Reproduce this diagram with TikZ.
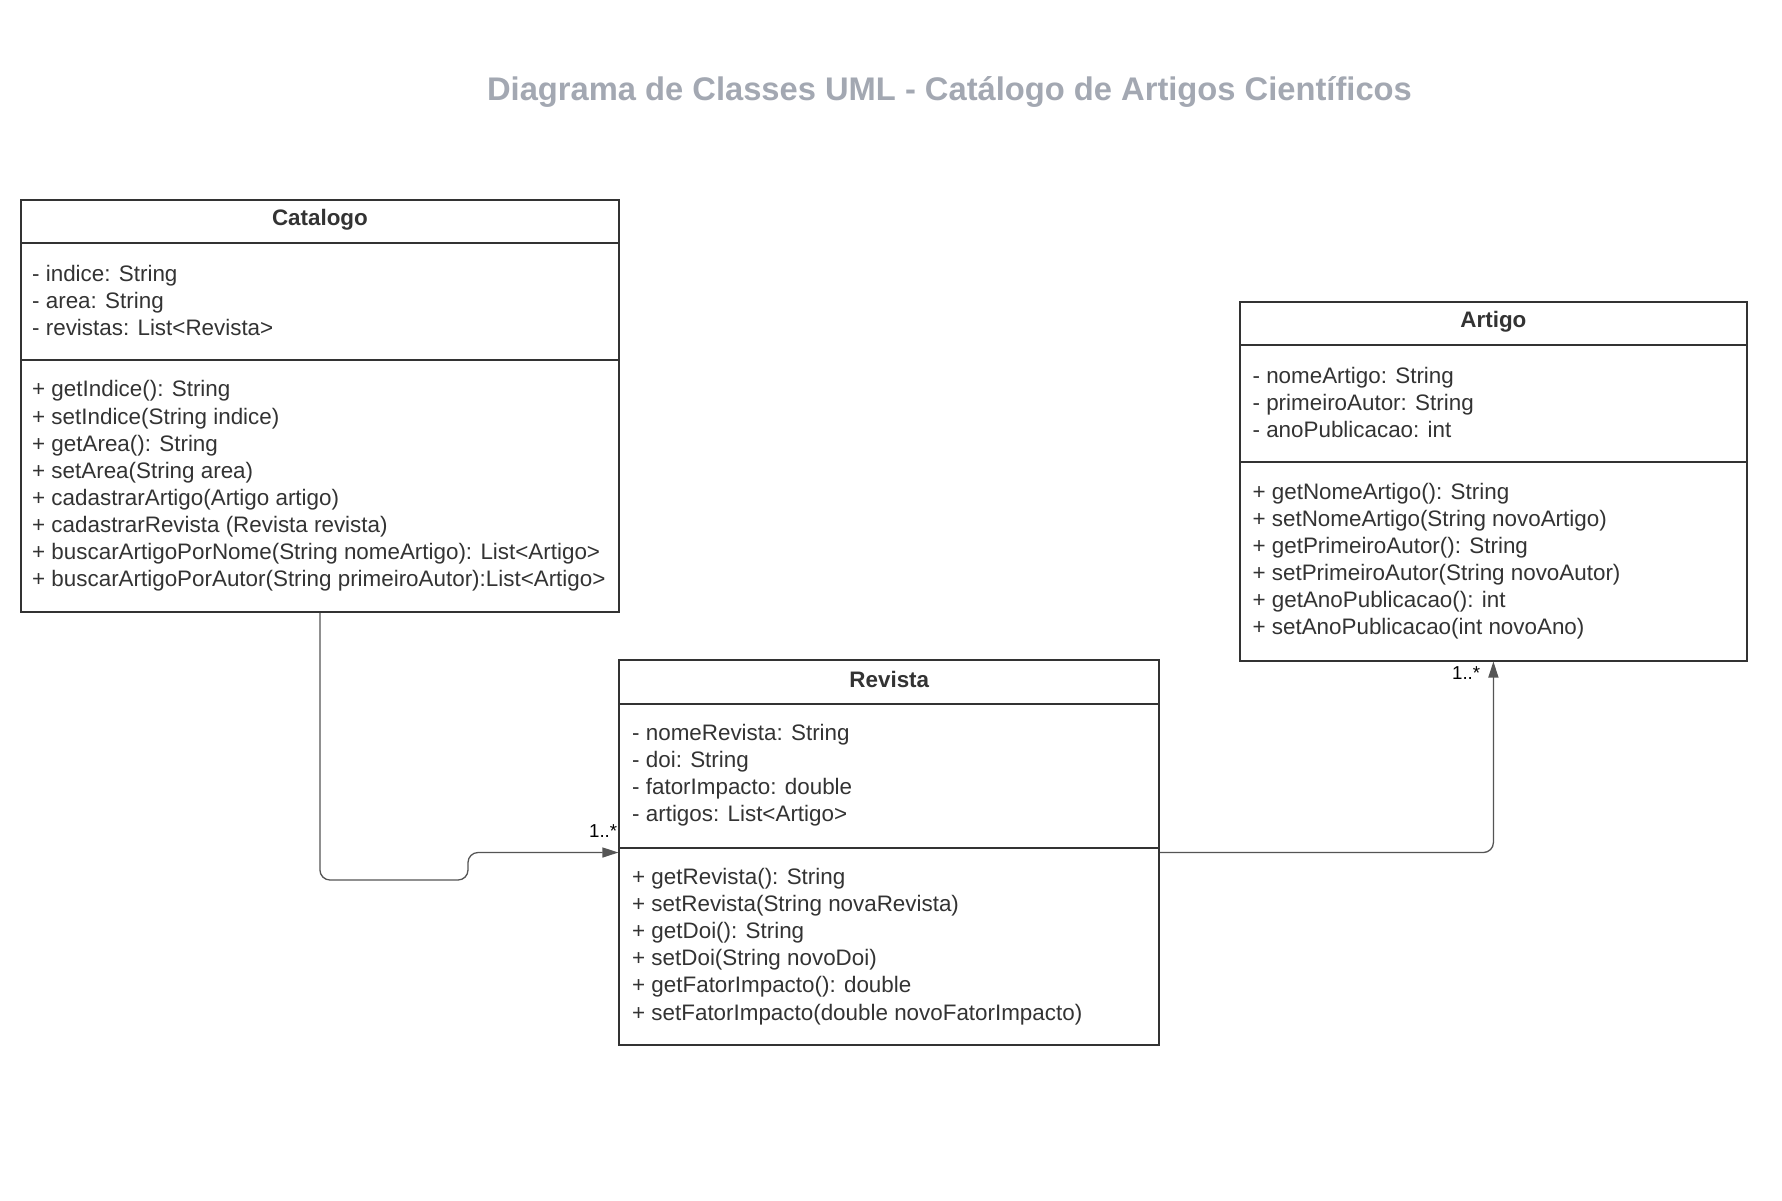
\documentclass[tikz,border=0pt]{standalone}
\usepackage{fontspec}
\setmainfont{Liberation Sans}
\usetikzlibrary{arrows.meta,calc}
\definecolor{ink}{HTML}{333333}
\definecolor{edgegray}{HTML}{555555}
\definecolor{titlegray}{HTML}{A3A8B2}
\begin{document}
\begin{tikzpicture}[x=1pt,y=-1pt,
  classbox/.style={draw=ink, line width=2pt, rectangle, inner sep=0pt},
  sepline/.style={draw=ink, line width=2pt},
  classname/.style={text=ink, inner sep=0pt, font=\bfseries\fontsize{22.4}{27.1}\selectfont},
  members/.style={text=ink, inner sep=0pt, anchor=west, align=left, font=\fontsize{22.4}{27.1}\selectfont},
  assoc/.style={draw=edgegray, line width=1.3pt, rounded corners=10pt, -{Triangle[length=16pt,width=10pt]}},
  mult/.style={text=black, inner sep=0pt, font=\fontsize{18.7}{22}\selectfont},
  titletext/.style={text=titlegray, inner sep=0pt, font=\bfseries\fontsize{32.7}{40}\selectfont}]
\fill[white] (0,0) rectangle (1782,1200);
\useasboundingbox (0,0) rectangle (1782,1200);

\node[titletext] (title) at (949.5,91.5) {Diagrama de Classes UML - Catálogo de Artigos Científicos};

% Catalogo
\node[classbox, minimum width=598.9pt, minimum height=412pt] (cat) at (319.95,406) {};
\draw[sepline] (20.5,242.5) -- (619.4,242.5);
\draw[sepline] (20.5,360) -- (619.4,360);
\node[classname] (catname) at (319.95,220) {Catalogo};
\node[members] (catattr) at (32,300.5) {- indice: String\\- area: String\\- revistas: List<Revista>};
\node[members] (catmeth) at (32,486) {+ getIndice(): String\\+ setIndice(String indice)\\+ getArea(): String\\+ setArea(String area)\\+ cadastrarArtigo(Artigo artigo)\\+ cadastrarRevista (Revista revista)\\+ buscarArtigoPorNome(String nomeArtigo): List<Artigo>\\+ buscarArtigoPorAutor(String primeiroAutor):List<Artigo>};

% Revista
\node[classbox, minimum width=539.8pt, minimum height=385pt] (rev) at (889.3,852.5) {};
\draw[sepline] (619.4,703.5) -- (1159.2,703.5);
\draw[sepline] (619.4,847.5) -- (1159.2,847.5);
\node[classname] (revname) at (889.3,679.5) {Revista};
\node[members] (revattr) at (632,775.5) {- nomeRevista: String\\- doi: String\\- fatorImpacto: double\\- artigos: List<Artigo>};
\node[members] (revmeth) at (632,946.5) {+ getRevista(): String\\+ setRevista(String novaRevista)\\+ getDoi(): String\\+ setDoi(String novoDoi)\\+ getFatorImpacto(): double\\+ setFatorImpacto(double novoFatorImpacto)};

% Artigo
\node[classbox, minimum width=506.8pt, minimum height=358.2pt] (art) at (1493.4,481.4) {};
\draw[sepline] (1240,345) -- (1746.8,345);
\draw[sepline] (1240,462) -- (1746.8,462);
\node[classname] (artname) at (1493.4,321.5) {Artigo};
\node[members] (artattr) at (1252.4,402.3) {- nomeArtigo: String\\- primeiroAutor: String\\- anoPublicacao: int};
\node[members] (artmeth) at (1252.4,561.3) {+ getNomeArtigo(): String\\+ setNomeArtigo(String novoArtigo)\\+ getPrimeiroAutor(): String\\+ setPrimeiroAutor(String novoAutor)\\+ getAnoPublicacao(): int\\+ setAnoPublicacao(int novoAno)};

% connectors
\coordinate (j1) at (468,880);
\draw[assoc] (cat.south) |- (j1) |- (rev.west);
\draw[assoc] (rev.east) -| (art.south);

\node[mult, anchor=south east] (m1) at ($(rev.west)+(-1,-15)$) {1..*};
\node[mult, anchor=north east] (m2) at ($(art.south)+(-13,4.5)$) {1..*};
\end{tikzpicture}
\end{document}
